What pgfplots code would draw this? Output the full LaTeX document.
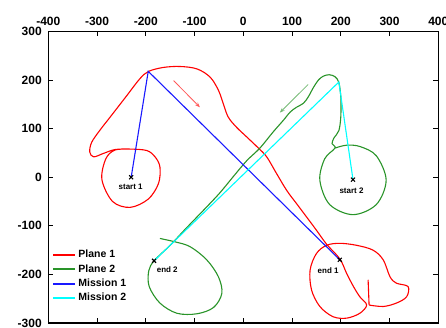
\documentclass[border=0pt]{standalone}
\usepackage{fontspec}
\setmainfont{Liberation Sans}
\usepackage{pgfplots}
\pgfplotsset{compat=1.18}
\usetikzlibrary{arrows.meta}
\definecolor{pgreen}{rgb}{0.16,0.58,0.16}
\definecolor{pcyan}{rgb}{0,1,1}
\definecolor{pblue}{rgb}{0.1,0.1,1}
\begin{document}
\begin{tikzpicture}
\begin{axis}[
  scale only axis, width=390pt, height=291.5pt,
  xmin=-400, xmax=400, ymin=-300, ymax=300,
  xtick={-400,-300,...,400}, ytick={-300,-200,...,300},
  xticklabel pos=upper, yticklabel pos=left,
  tick align=inside, major tick length=5pt,
  axis line style={line width=1.2pt},
  tick style={line width=0.9pt, black},
  ticklabel style={font=\bfseries\fontsize{12}{12}\selectfont},
  xticklabel style={yshift=2pt},
  yticklabel style={xshift=-3pt},
  /pgf/number format/assume math mode=true,
  legend style={draw=none, fill=none, at={(axis cs:-392,-146)}, anchor=north west,
    font=\bfseries\fontsize{10.5}{10.5}\selectfont, row sep=1.2pt, inner sep=0pt,
    /tikz/every even column/.append style={column sep=4pt}},
  legend cell align=left,
  legend image code/.code={\draw[#1, line width=2pt] (0pt,0pt) -- (22pt,0pt);},
]
% Plane 1 trajectory
\addplot[red, line width=1.1pt, smooth, tension=0.55] coordinates {
(-232,58) (-263,56) (-282,38) (-290,-5) (-268,-50) (-232,-62) (-195,-45)
(-174,-13) (-171,21) (-181,42) (-198,55) (-232,58) (-263,57) (-287,49)
(-307,42) (-315,52) (-311,72) (-294,97) (-273,124) (-239,168) (-212,203)
(-194,218) (-164,226) (-130,228) (-95,223) (-68,206) (-51,179) (-41,151)
(-31,124) (-14,103) (7,83) (31,60) (48,42) (68,8) (89,-27) (109,-54)
(130,-82) (150,-109) (171,-138) (198,-168) (212,-198) (226,-225) (239,-246)
(253,-263) (239,-280) (212,-290) (184,-287) (157,-266) (140,-232) (137,-191)
(150,-157) (171,-140) (198,-136) (232,-140) (266,-150) (287,-170) (301,-205)
(314,-218) (338,-225) (335,-246) (314,-259) (287,-266) (258,-263)
};
\addlegendentry{Plane 1}
% Plane 2 trajectory
\addplot[pgreen, line width=1.1pt, smooth, tension=0.55] coordinates {
(188,60) (212,66) (240,63) (273,44) (293,-6) (273,-56) (225,-77) (177,-56)
(157,-6) (167,38) (188,60) (182,69) (186,81) (196,96) (200,125) (200,165)
(196,195) (188,207) (176,211) (164,208) (154,200) (144,185) (133,165)
(123,152) (109,144) (96,134) (82,117) (61,93) (34,60) (7,34) (-20,2)
(-48,-32) (-75,-61) (-100,-87) (-122,-110) (-150,-140) (-183,-172)
(-194,-193) (-193,-225) (-171,-259) (-136,-280) (-95,-281) (-61,-268)
(-44,-239) (-51,-205) (-75,-170) (-109,-143) (-140,-133) (-171,-126)
};
\addlegendentry{Plane 2}
% Mission 1 waypoints
\addplot[pblue, line width=1.1pt] coordinates {(-230,0) (-195,218) (198,-170)};
\addlegendentry{Mission 1}
% Mission 2 waypoints
\addplot[pcyan, line width=1.1pt] coordinates {(225,-5) (196,196) (-183,-172)};
\addlegendentry{Mission 2}
% last short leg of Plane 1
\addplot[red, line width=1.1pt, forget plot] coordinates {(258,-263) (256,-211)};
% direction arrows
\addplot[red!65, line width=0.8pt, -{Stealth[length=5pt]}, forget plot] coordinates {(-143,199) (-89,144)};
\addplot[pgreen!65, line width=0.8pt, -{Stealth[length=5pt]}, forget plot] coordinates {(133,191) (75,133)};
% start and end points
\addplot[only marks, mark=x, mark size=2.8pt, line width=1.1pt, black, forget plot]
  coordinates {(-230,0) (225,-5) (198,-170) (-183,-172)};
\begin{scope}[font=\bfseries\fontsize{8}{8}\selectfont]
\node at (axis cs:-231,-20) {start 1};
\node at (axis cs:222,-27) {start 2};
\node at (axis cs:174,-193) {end 1};
\node at (axis cs:-156,-191) {end 2};
\end{scope}
\coordinate (bl) at (rel axis cs:0,0);
\coordinate (tr) at (rel axis cs:1,1);
\end{axis}
\pgfresetboundingbox
\path[use as bounding box] ([shift={(-48.3pt,-4pt)}]bl) rectangle ([shift={(7.7pt,31.5pt)}]tr);
\end{tikzpicture}
\end{document}
